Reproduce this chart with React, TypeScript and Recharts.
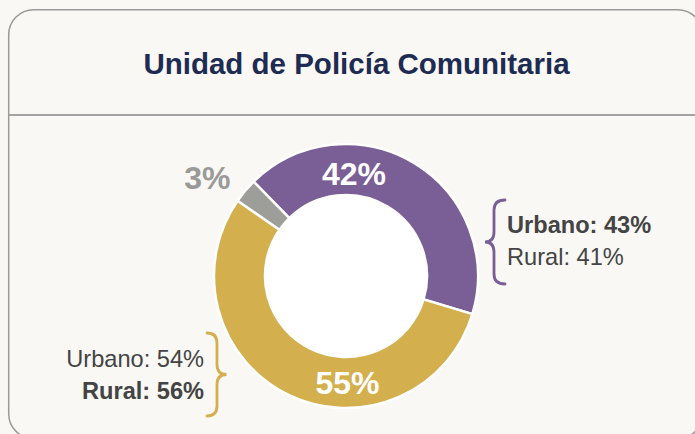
import React from "react";
import { PieChart, Pie, Cell } from "recharts";

const title = "Unidad de Policía Comunitaria";

const sliceNames = ["Grupo 1", "Grupo 2", "Grupo 3"];
const sliceValues = [42, 55, 3];

const purpleLabels = ["Urbano", "Rural"];
const purpleValues = [43, 41];
const goldLabels = ["Urbano", "Rural"];
const goldValues = [54, 56];

const COLORS = ["#7A5E96", "#D4AF4D", "#9D9D9A"];
const BG = "#F9F8F5";
const TEXT = "#444444";

// where each slice's % sits (angle in degrees, radius in px from centre)
const LABEL_SPOTS = [
  { angle: 85.5, r: 102, fill: "#ffffff" },
  { angle: -89.2, r: 107, fill: "#ffffff" },
  { angle: 144.7, r: 170, fill: "#9A9A98" },
];

const CX = 346;
const CY = 276;
const START = 134.4;

const data = sliceNames.map((name, i) => ({ name, value: sliceValues[i] }));

const renderLabel = (props: any) => {
  const { cx, cy, index, value } = props;
  const spot = LABEL_SPOTS[index];
  const rad = (spot.angle * Math.PI) / 180;
  const x = cx + spot.r * Math.cos(rad);
  const y = cy - spot.r * Math.sin(rad);
  return (
    <text
      x={x}
      y={y}
      textAnchor="middle"
      dominantBaseline="central"
      fill={spot.fill}
      fontSize={32}
      fontWeight={700}
      fontFamily="'Liberation Sans', Arial, sans-serif"
    >
      {value}%
    </text>
  );
};

function Brace({ x0, xb, xt, y0, y1 }: { x0: number; xb: number; xt: number; y0: number; y1: number }) {
  const ym = (y0 + y1) / 2;
  const d = 10;
  const path = `M ${x0} ${y0} Q ${xb} ${y0} ${xb} ${y0 + d} L ${xb} ${ym - d} Q ${xb} ${ym} ${xt} ${ym} Q ${xb} ${ym} ${xb} ${ym + d} L ${xb} ${y1 - d} Q ${xb} ${y1} ${x0} ${y1}`;
  return <path d={path} fill="none" strokeWidth={2.8} strokeLinecap="round" />;
}

export default function App() {
  const font = "'Liberation Sans', Arial, sans-serif";
  return (
    <div style={{ position: "absolute", left: 0, top: 0, width: 695, height: 434, background: BG, overflow: "hidden" }}>
      <svg width={695} height={434} style={{ position: "absolute", left: 0, top: 0 }}>
        <rect x={8.7} y={9.7} width={694} height={429} rx={25} ry={25} fill={BG} stroke="#9A9A9A" strokeWidth={1.5} />
        <line x1={8.7} x2={695} y1={115} y2={115} stroke="#A3A3A3" strokeWidth={2} />
        <text x={356.5} y={73.5} textAnchor="middle" fill="#1E2B52" fontSize={29.5} fontWeight={700} fontFamily={font}>
          {title}
        </text>
      </svg>
      <div style={{ position: "absolute", left: 0, top: 0 }}>
        <PieChart width={695} height={434} margin={{ top: 0, right: 0, bottom: 0, left: 0 }}>
          <Pie
            data={[{ name: "hole", value: 1 }]}
            dataKey="value"
            cx={CX}
            cy={CY}
            innerRadius={0}
            outerRadius={82}
            fill="#ffffff"
            stroke="none"
            isAnimationActive={false}
          />
          <Pie
            data={data}
            dataKey="value"
            cx={CX}
            cy={CY}
            innerRadius={81}
            outerRadius={132}
            startAngle={START}
            endAngle={START - 360}
            stroke="#ffffff"
            strokeWidth={2.5}
            label={renderLabel}
            labelLine={false}
            isAnimationActive={false}
          >
            {data.map((d, i) => (
              <Cell key={d.name} fill={COLORS[i]} />
            ))}
          </Pie>
        </PieChart>
      </div>
      <svg width={695} height={434} style={{ position: "absolute", left: 0, top: 0, pointerEvents: "none" }}>
        <g stroke={COLORS[0]}>
          <Brace x0={505} xb={494} xt={485} y0={200} y1={284} />
        </g>
        <text x={507} y={225} dominantBaseline="central" fill={TEXT} fontSize={23.6} fontWeight={700} fontFamily={font}>
          {purpleLabels[0]}: {purpleValues[0]}%
        </text>
        <text x={507} y={257} dominantBaseline="central" fill={TEXT} fontSize={23.6} fontWeight={400} fontFamily={font}>
          {purpleLabels[1]}: {purpleValues[1]}%
        </text>
        <g stroke={COLORS[1]}>
          <Brace x0={207} xb={217} xt={226.5} y0={333} y1={416} />
        </g>
        <text x={204} y={359} textAnchor="end" dominantBaseline="central" fill={TEXT} fontSize={23.6} fontWeight={400} fontFamily={font}>
          {goldLabels[0]}: {goldValues[0]}%
        </text>
        <text x={204} y={391} textAnchor="end" dominantBaseline="central" fill={TEXT} fontSize={23.6} fontWeight={700} fontFamily={font}>
          {goldLabels[1]}: {goldValues[1]}%
        </text>
      </svg>
    </div>
  );
}
